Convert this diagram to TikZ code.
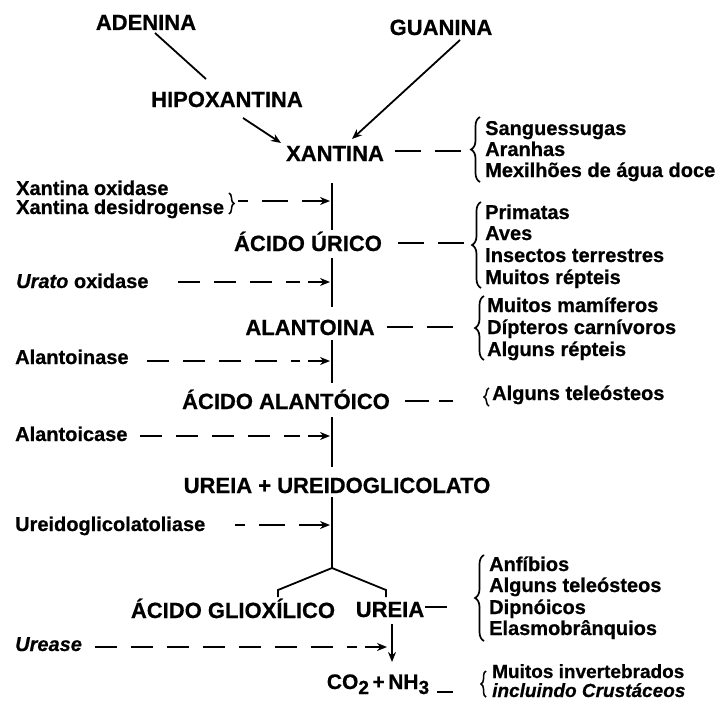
\documentclass[tikz,border=0pt]{standalone}
\usepackage{fontspec}
\setmainfont{Liberation Sans}[BoldFeatures={FakeBold=0.6},BoldItalicFeatures={FakeBold=0.6}]
\usetikzlibrary{arrows.meta,decorations.pathreplacing,calc}
\begin{document}
\begin{tikzpicture}[x=1pt,y=-1pt,
  big/.style={font=\fontsize{22}{24}\selectfont\bfseries, inner sep=0pt, anchor=base},
  small/.style={font=\fontsize{20}{22}\selectfont\bfseries, inner sep=0pt, anchor=base west},
  conn/.style={line width=1.8pt},
  arr/.style={conn,-{Stealth[length=10pt,width=8pt]}},
  dline/.style={conn, dash pattern=on 22pt off 14pt},
  rdash/.style={conn, dash pattern=on 26pt off 14pt},
  brc/.style={decorate, decoration={brace,amplitude=9pt,aspect=0.5}, line width=1.7pt},
  sbrc/.style={decorate, decoration={brace,amplitude=5pt,aspect=0.5}, line width=1.5pt},
]
\useasboundingbox (0,0) rectangle (722,701);

% main chain
\node[big] (adenina) at (146,30) {ADENINA};
\node[big] (guanina) at (441,35) {GUANINA};
\node[big] (hipox) at (227,107) {HIPOXANTINA};
\node[big] (xantina) at (335,161) {XANTINA};
\node[big] (urico) at (308,251) {ÁCIDO ÚRICO};
\node[big] (alantoina) at (310,335) {ALANTOINA};
\node[big] (alantoico) at (286,409) {ÁCIDO ALANTÓICO};
\node[big] (ureiaglic) at (337,493) {UREIA + UREIDOGLICOLATO};
\node[big] (glioxilico) at (233,618) {ÁCIDO GLIOXÍLICO};
\node[big] (ureia) at (390,617) {UREIA};
\node[font=\fontsize{21}{22}\selectfont\bfseries, inner sep=0pt, anchor=base] (co2) at (378,689)
  {CO\raisebox{-5pt}{\fontsize{19}{19}\selectfont 2}\,+\,NH\raisebox{-5pt}{\fontsize{19}{19}\selectfont 3}};

% top connectors
\coordinate (a1) at (155,33);
\coordinate (a2) at (206,79);
\draw[conn] (a1) -- (a2);
\coordinate (h1) at (243,118);
\coordinate (h2) at (281,143);
\draw[arr] (h1) -- (h2);
\coordinate (g1) at (460,40);
\coordinate (g2) at (352,139);
\draw[arr] (g1) -- (g2);

% vertical chain
\coordinate (v1a) at (332,183); \coordinate (v1b) at (332,230);
\coordinate (v2a) at (332,258); \coordinate (v2b) at (332,307);
\coordinate (v3a) at (332,340); \coordinate (v3b) at (332,383);
\coordinate (v4a) at (332,417); \coordinate (v4b) at (332,467);
\coordinate (v5a) at (332,497); \coordinate (v5b) at (332,568);
\draw[conn] (v1a) -- (v1b);
\draw[conn] (v2a) -- (v2b);
\draw[conn] (v3a) -- (v3b);
\draw[conn] (v4a) -- (v4b);
\draw[conn] (v5a) -- (v5b);
\draw[conn] (278,597) -- (278,590) -- (v5b) -- (386,590) -- (386,597);
\coordinate (u1) at (392,624); \coordinate (u2) at (392,662);
\draw[arr] (u1) -- (u2);

% enzymes (left)
\node[small] (xo) at (16,195) {Xantina oxidase};
\node[small] (xd) at (16,214) {Xantina desidrogense};
\draw[sbrc] (229,193) -- (229,214);
\coordinate (e1) at (330,201);
\draw[conn] (238,201) -- (248,201);
\draw[conn] (262,201) -- (288,201);
\draw[arr] (302,201) -- (e1);

\node[small] (urato) at (16,288) {\itshape Urato\upshape{} oxidase};
\coordinate (e2) at (330,282);
\draw[dline] (178,282) -- ($(e2)+(-30,0)$);
\draw[arr] ($(e2)+(-22,0)$) -- (e2);

\node[small] (alantoinase) at (15,364) {Alantoinase};
\coordinate (e3) at (330,361);
\draw[dline] (147,361) -- ($(e3)+(-30,0)$);
\draw[arr] ($(e3)+(-22,0)$) -- (e3);

\node[small] (alantoicase) at (15,441) {Alantoicase};
\coordinate (e4) at (330,436);
\draw[dline] (140,436) -- ($(e4)+(-30,0)$);
\draw[arr] ($(e4)+(-22,0)$) -- (e4);

\node[small] (ureidogl) at (15,531) {Ureidoglicolatoliase};
\coordinate (e5) at (330,525);
\draw[conn] (235,525) -- (245,525);
\draw[conn] (259,525) -- (285,525);
\draw[arr] (299,525) -- (e5);

\node[small] (urease) at (15,651) {\itshape Urease};
\coordinate (e6) at (387,647);
\draw[dline] (95,647) -- ($(e6)+(-30,0)$);
\draw[arr] ($(e6)+(-22,0)$) -- (e6);

% organisms (right)
\draw[rdash] (395,151) -- (463,151);
\draw[brc] (480,182) -- (480,117);
\node[small] at (485,135) {Sanguessugas};
\node[small] at (485,156) {Aranhas};
\node[small] at (485,177) {Mexilhões de água doce};

\draw[rdash] (398,243) -- (472,243);
\draw[brc] (481,288) -- (481,202);
\node[small] at (485,219) {Primatas};
\node[small] at (485,240) {Aves};
\node[small] at (485,262) {Insectos terrestres};
\node[small] at (485,284) {Muitos répteis};

\draw[rdash] (387,327) -- (455,327);
\draw[brc] (484,360) -- (484,296);
\node[small] at (487,312) {Muitos mamíferos};
\node[small] at (487,334) {Dípteros carnívoros};
\node[small] at (487,356) {Alguns répteis};

\draw[conn, dash pattern=on 24pt off 10pt] (405,401) -- (453,401);
\draw[sbrc] (489,406) -- (489,388);
\node[small] at (492,400) {Alguns teleósteos};

\draw[conn] (425,607) -- (447,607);
\draw[brc] (484,641) -- (484,555);
\node[small] at (489,571) {Anfíbios};
\node[small] at (489,592) {Alguns teleósteos};
\node[small] at (489,614) {Dipnóicos};
\node[small] at (489,635) {Elasmobrânquios};

\draw[conn] (437,692) -- (453,692);
\draw[sbrc] (486,697) -- (486,671);
\node[small, font=\fontsize{19}{20}\selectfont\bfseries] at (492,678) {Muitos invertebrados};
\node[small, font=\fontsize{19}{20}\selectfont\bfseries\itshape] at (492,697) {incluindo Crustáceos};
\end{tikzpicture}
\end{document}
